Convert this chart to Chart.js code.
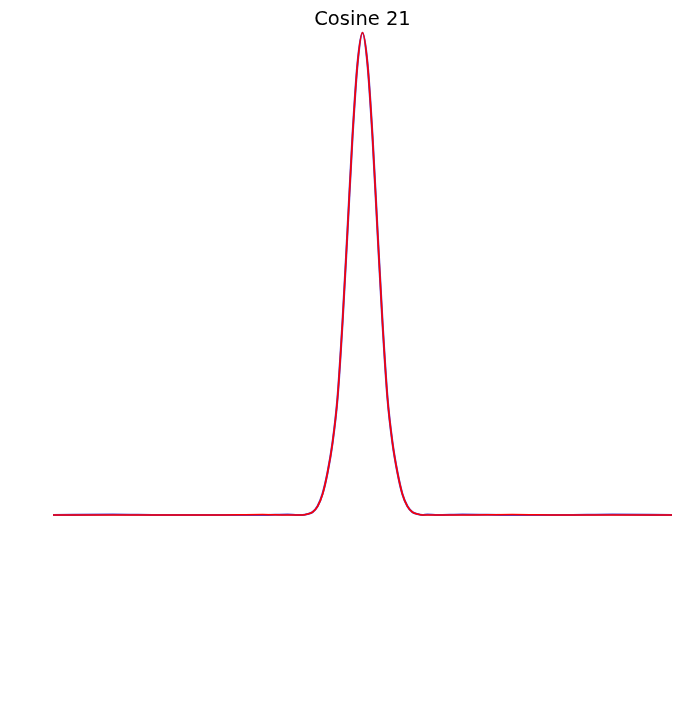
<!DOCTYPE html>
<html>
<head>
<meta charset="utf-8">
<script src="https://cdn.jsdelivr.net/npm/chart.js@4/dist/chart.umd.min.js"></script>
<style>
  html, body { margin: 0; padding: 0; background: #ffffff; }
  #wrap { width: 697px; height: 702px; }
</style>
</head>
<body>
<div id="wrap"><canvas id="c" width="697" height="702"></canvas></div>
<script>
const chartTitle = "Cosine 21";
const xValues = [-62, -50, -40, -30, -20, -15, -13, -12, -11, -10, -9, -8, -7, -6, -5, -4, -3, -2, -1, 0,
                 1, 2, 3, 4, 5, 6, 7, 8, 9, 10, 11, 12, 13, 15, 20, 30, 40, 50, 62];
const dataValues = [0.000, 0.000, 0.000, 0.000, 0.001, 0.000, 0.000, 0.000, 0.002, 0.006, 0.018, 0.043, 0.088, 0.150, 0.243, 0.400, 0.590, 0.785, 0.935, 1.000,
                    0.935, 0.785, 0.590, 0.400, 0.243, 0.150, 0.088, 0.043, 0.018, 0.006, 0.002, 0.000, 0.000, 0.000, 0.000, 0.001, 0.000, 0.000, 0.000];
const fitValues  = [0.000, 0.001, 0.000, 0.000, 0.000, 0.001, 0.000, 0.000, 0.002, 0.006, 0.018, 0.044, 0.088, 0.150, 0.243, 0.400, 0.590, 0.785, 0.935, 0.999,
                    0.935, 0.785, 0.590, 0.400, 0.243, 0.150, 0.088, 0.043, 0.018, 0.006, 0.002, 0.000, 0.001, 0.000, 0.001, 0.000, 0.000, 0.001, 0.000];

const toPoints = (vals) => xValues.map((x, i) => ({ x: x, y: vals[i] }));

new Chart(document.getElementById('c'), {
  type: 'line',
  data: {
    datasets: [
      {
        label: 'data',
        data: toPoints(dataValues),
        borderColor: '#ff0000',
        borderWidth: 1.6,
        pointRadius: 0,
        cubicInterpolationMode: 'monotone',
        clip: false,
        order: 0
      },
      {
        label: 'fit',
        data: toPoints(fitValues),
        borderColor: '#4b3fd0',
        borderWidth: 2.2,
        pointRadius: 0,
        cubicInterpolationMode: 'monotone',
        clip: false,
        order: 1
      }
    ]
  },
  options: {
    responsive: false,
    animation: false,
    devicePixelRatio: 1,
    layout: { padding: { left: 53, right: 25, top: 0, bottom: 0 } },
    plugins: {
      legend: { display: false },
      tooltip: { enabled: false },
      title: {
        display: true,
        text: chartTitle,
        color: '#000000',
        font: { family: 'DejaVu Sans', size: 19.5, weight: 'normal', lineHeight: 1.2 },
        padding: { top: 8.5, bottom: 0 }
      }
    },
    scales: {
      x: { type: 'linear', min: -62, max: 62, display: false },
      y: { type: 'linear', min: -0.3876, max: 1.0012, display: false }
    }
  }
});
</script>
</body>
</html>
